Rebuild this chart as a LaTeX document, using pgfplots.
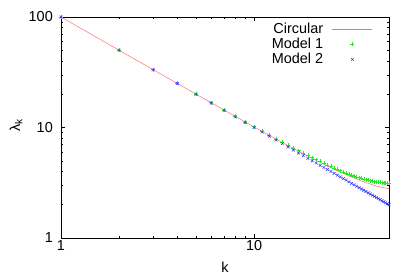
\documentclass[border=0pt]{standalone}
\usepackage{fontspec}
\setmainfont{Liberation Sans}
\usepackage{pgfplots}
\pgfplotsset{compat=1.18}
\definecolor{gpred}{RGB}{255,110,110}
\definecolor{gpgreen}{RGB}{40,230,40}
\definecolor{gpblue}{RGB}{50,50,255}
\begin{document}
\fontsize{14.5}{17}\selectfont
\begin{tikzpicture}
\useasboundingbox (-61bp,-38bp) rectangle (354bp,238bp);
\begin{axis}[
  scale only axis, width=328bp, height=221bp,
  xmode=log, ymode=log,
  xmin=1, xmax=50, ymin=1, ymax=100,
  xtick={1,10}, xticklabels={1,10},
  ytick={1,10,100}, yticklabels={1,10,100},
  /pgf/number format/assume math mode=true,
  tick align=inside, major tick length=4bp, minor tick length=2.5bp,
  axis line style={line width=0.9pt},
  every tick/.style={black, line width=0.5pt},
  xticklabel style={inner sep=1bp, yshift=-1bp},
  yticklabel style={inner sep=1bp, xshift=-7bp},
  xlabel={k}, ylabel={λ\textsubscript{k}},
  x label style={at={(axis description cs:0.5,-0.131)}, anchor=center},
  y label style={at={(axis description cs:-0.137,0.511)}, anchor=center, rotate=0},
  legend plot pos=right,
  legend cell align=right,
  legend style={draw=none, fill=none, inner sep=0pt, row sep=1bp, column sep=8bp,
    at={(0.951,0.9765)}, anchor=north east,
    nodes={inner sep=1bp, text height=10bp, text depth=2bp}},
  legend image code/.code={\draw[mark repeat=2,mark phase=2,#1] plot coordinates {(0bp,0bp) (20bp,0bp) (40bp,0bp)};},
]
\addplot[gpred, line width=0.5pt, no marks] coordinates {
(1,100) (2,50.02) (3,33.37) (4,25.05) (5,20.06) (6,16.74) (7,14.37) (8,12.60) (9,11.22) (10,10.12)
(12,8.483) (14,7.319) (16,6.452) (18,5.785) (20,5.257) (22,4.831) (24,4.480) (26,4.189) (28,3.945)
(30,3.738) (32,3.561) (34,3.410) (36,3.281) (38,3.171) (40,3.076) (42,2.996) (44,2.928) (46,2.872)
(48,2.826) (50,2.790)};
\addlegendentry{Circular}
\addplot[only marks, mark=+, mark size=2bp, color=gpgreen, mark options={line width=0.5pt}] coordinates {
(1,100) (2,50.03) (3,33.38) (4,25.06) (5,20.08) (6,16.76) (7,14.40) (8,12.63) (9,11.26) (10,10.16)
(11,9.273) (12,8.533) (13,7.909) (14,7.377) (15,6.919) (16,6.520) (17,6.171) (18,5.862) (19,5.588) (20,5.344)
(21,5.125) (22,4.928) (23,4.750) (24,4.589) (25,4.442) (26,4.309) (27,4.188) (28,4.077) (29,3.975) (30,3.883)
(31,3.798) (32,3.720) (33,3.649) (34,3.584) (35,3.525) (36,3.472) (37,3.423) (38,3.378) (39,3.338) (40,3.303)
(41,3.271) (42,3.243) (43,3.219) (44,3.198) (45,3.180) (46,3.166) (47,3.155) (48,3.147) (49,3.143) (50,3.141)};
\addlegendentry{Model 1}
\addplot[only marks, mark=x, mark size=2bp, color=gpblue, mark options={line width=0.5pt}] coordinates {
(1,100) (2,50) (3,33.333) (4,25) (5,20) (6,16.667) (7,14.286) (8,12.5) (9,11.111) (10,10)
(11,9.0909) (12,8.3333) (13,7.6923) (14,7.1429) (15,6.6667) (16,6.25) (17,5.8824) (18,5.5556) (19,5.2632) (20,5)
(21,4.7619) (22,4.5455) (23,4.3478) (24,4.1667) (25,4) (26,3.8462) (27,3.7037) (28,3.5714) (29,3.4483) (30,3.3333)
(31,3.2258) (32,3.125) (33,3.0303) (34,2.9412) (35,2.8571) (36,2.7778) (37,2.7027) (38,2.6316) (39,2.5641) (40,2.5)
(41,2.439) (42,2.381) (43,2.3256) (44,2.2727) (45,2.2222) (46,2.1739) (47,2.1277) (48,2.0833) (49,2.0408) (50,2)};
\addlegendentry{Model 2}
\end{axis}
\end{tikzpicture}
\end{document}
